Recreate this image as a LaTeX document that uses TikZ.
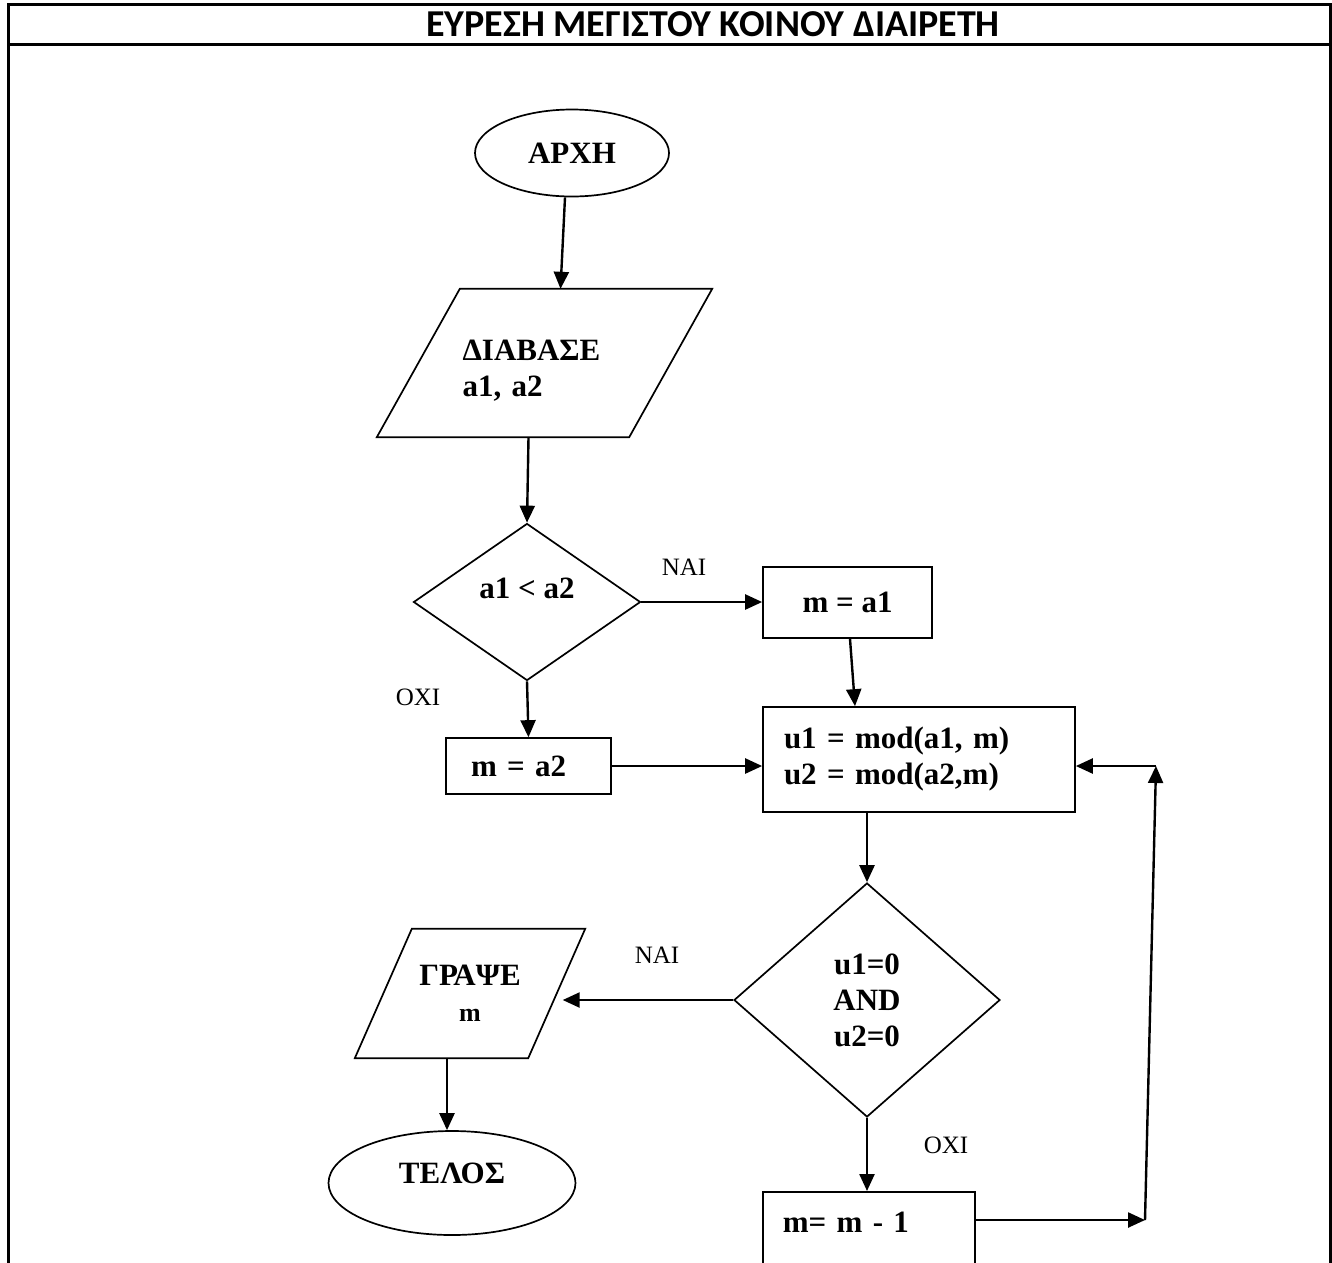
\documentclass[tikz,border=0pt]{standalone}
\usepackage{fontspec}
\setmainfont{Liberation Serif}
\newfontfamily\titlefont{Carlito}
\usetikzlibrary{shapes.geometric,arrows.meta,calc}

\begin{document}
\begin{tikzpicture}[x=1pt, y=-1pt, font=\bfseries\fontsize{31}{36}\selectfont]
    \tikzstyle{marrs}=[line width=2.4pt,-{Triangle[length=17pt,width=15pt]}]
    \tikzstyle{frm}=[line width=3pt]
    \tikzstyle{shp}=[line width=1.7pt]
    \tikzstyle{terminal}=[ellipse, draw, shp]
    \tikzstyle{io}=[rectangle]
    \tikzstyle{decision}=[diamond, draw, shp, align=center]
    \tikzstyle{process}=[rectangle, draw, shp]
    \tikzstyle{lbl}=[font=\mdseries\fontsize{25}{28}\selectfont]

    \useasboundingbox (0,0) rectangle (1332,1262);
    \clip (0,0) rectangle (1332,1262);

    % frame and title
    \draw[frm] (8,1290) -- (8,4) -- (1330,4) -- (1330,1290);
    \draw[frm] (8,44) -- (1330,44);
    \node[font={\titlefont\bfseries\fontsize{38}{40}\selectfont}] (title) at (713,24) {ΕΥΡΕΣΗ ΜΕΓΙΣΤΟΥ ΚΟΙΝΟΥ ΔΙΑΙΡΕΤΗ};

    % flowchart
    \node[terminal, minimum width=194pt, minimum height=87pt] (arxi) at (572,153) {ΑΡΧΗ};
    \node[io, minimum width=252pt, minimum height=148pt, text width=164pt, align=left] (diavase) at (544.5,363) {\rule{0pt}{36pt}ΔΙΑΒΑΣΕ\\a1, a2};
    \node[decision, minimum width=227pt, minimum height=154pt, text depth=28pt] (cmp) at (527,602) {a1 < a2};
    \node[process, minimum width=169pt, minimum height=71pt] (ma1) at (847.5,602.5) {m = a1};
    \node[process, minimum width=312pt, minimum height=105pt, text width=270pt, align=left] (mods) at (919,759.5) {u1 = mod(a1, m)\\u2 = mod(a2,m)};
    \node[process, minimum width=165pt, minimum height=56pt, text width=115pt, align=left] (ma2) at (528.5,766) {m = a2};
    \node[decision, minimum width=266pt, minimum height=234pt] (check) at (867,1000) {u1=0\\AND\\u2=0};
    \node[io, minimum width=173pt, minimum height=129pt, align=center] (grapse) at (470,993.5) {ΓΡΑΨΕ\\{\fontsize{26}{28}\selectfont m}};
    \node[terminal, minimum width=247pt, minimum height=104pt, text depth=20pt] (telos) at (452,1183) {ΤΕΛΟΣ};
    \node[process, anchor=north west, minimum width=212pt, text width=172pt, align=left, text height=20pt, text depth=80pt, inner ysep=21pt] (mdec) at (762,1191) {m= m - 1};

    % slanted sides of the input/output boxes
    \foreach \n/\d in {diavase/41.5, grapse/28.5}
        \draw[shp] ($(\n.north west)+(\d,0)$) -- ($(\n.north east)+(\d,0)$) -- ($(\n.south east)+(-\d,0)$) -- ($(\n.south west)+(-\d,0)$) -- cycle;

    \coordinate (c1) at (1145,1220);
    \coordinate (c2) at (1156,766);

    \foreach \n/\x/\y/\t in {yes1/684/567/ΝΑΙ, no1/418/697/ΟΧΙ, yes2/657/955/ΝΑΙ, no2/946/1145/ΟΧΙ}
        \node[lbl] (\n) at (\x,\y) {\t};

    % connectors
    \draw[marrs] ($(arxi.south)+(-7,0)$) -- ($(diavase.north)+(16,0)$);
    \draw[marrs] ($(diavase.south)+(-16,0)$) -- (cmp.north);
    \draw[marrs] (cmp.east) -- (cmp.east -| ma1.west);
    \draw[marrs] ($(ma1.south)+(2.5,0)$) -- ($(mods.north)+(-64,0)$);
    \draw[marrs] (cmp.south) -- (ma2.north);
    \draw[marrs] (ma2.east) -- (ma2.east -| mods.west);
    \draw[marrs] (check.north |- mods.south) -- (check.north);
    \draw[marrs] (check.west) -- ($(check.west -| grapse.east)+(6,0)$);
    \draw[marrs] ($(grapse.south)+(-23,0)$) -- ($(telos.north)+(-5,0)$);
    \draw[marrs] (check.south) -- (check.south |- mdec.north);
    \draw[marrs] ($(mdec.north east)+(0,29)$) -- (c1);
    \draw[marrs] (c1) -- (c2);
    \draw[marrs] (c2) -- (c2 -| mods.east);
\end{tikzpicture}
\end{document}
